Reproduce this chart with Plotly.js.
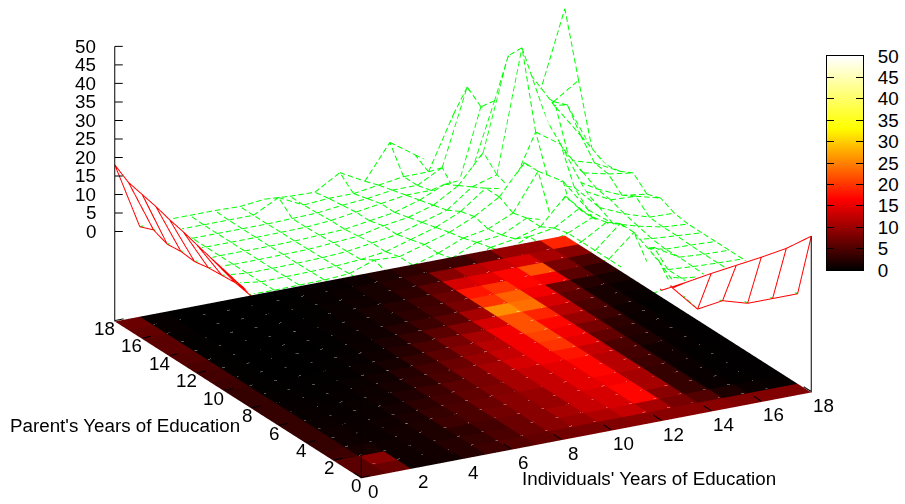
<!DOCTYPE html>
<html><head><meta charset="utf-8"><script src="https://cdn.plot.ly/plotly-3.0.1.min.js"></script>
<style>html,body{margin:0;padding:0;background:#fff}#c{width:905px;height:504px}</style></head>
<body><div id="c"></div><script>
const gridTicks=[0,1,2,3,4,5,6,7,8,9,10,11,12,13,14,15,16,17,18];
const xTickVals=[0,2,4,6,8,10,12,14,16,18];
const yTickVals=[0,2,4,6,8,10,12,14,16,18];
const zTickVals=[0,5,10,15,20,25,30,35,40,45,50];
const xTitle="Individuals' Years of Education";
const yTitle="Parent's Years of Education";
const wireY0=[0,1,1.5,2,3,4,5,6,7,8,9,10,11,11.9,13,13.9,14.8,15.9,17.9];
const wireY1=[6,8,1,2,3,4,5,7,9,11,13,16,16,8,1,2,0,0,0];
const wireY2=[5,2,1.5,2,2.5,4,6,7,9,12,15,16,22,13,2,.5,.5,.2,0];
const wireY3=[4,1.5,1.5,1.8,2.2,3.5,5,7,9,11,15,16,22,14,3,1,1,.2,0];
const wireY4=[4,1.2,1.2,1.5,2,3,5,7,9,11,14,16,20,12,3,1,.3,.2,0];
const wireY5=[4,1,1,1.2,1.8,3,4.5,6,8,11,14,16,19,12,3,1,.5,.2,0];
const wireY6=[4.5,.8,.8,1,1.5,2.5,4,6,8,11,14,15,19,10.5,1.6,4.6,.7,.2,0];
const wireY7=[5,.7,.7,.9,1.2,2,3,5,7,10,11,13,20,13,5,2,.5,.3,0];
const wireY8=[5.8,.6,.6,.8,1,1.5,2.5,4,6,9,9.7,13,11,8,5,2,1,.5,0];
const wireY9=[7.3,.5,.5,.6,.8,1.2,2,3,5,7.8,9,12,22,18,9,4,2,.5,0];
const wireY10=[8.4,.5,.4,.5,.6,1,3.4,3,5,7,10,14,22,15,12.7,6,3,.8,.6];
const wireY11=[9.4,1.3,.3,.4,.5,.7,1.2,2,4,6,9,14,12.5,26.6,22,8,4.4,4.1,2.3];
const wireY12=[10.5,1,.3,.3,.4,.6,1,2,3,5,7,12,14,47,26,9,5,2,1];
const wireY13=[11.7,.7,.3,.3,.4,.5,1,1.5,3,4,6,10,17.7,42.5,20.6,16.4,7,5.4,4.4];
const wireY14=[12.6,0,.3,.3,.3,.4,.7,1,2,3,5,8,8.4,28,20,15,8,6,2.5];
const wireY15=[13.8,.4,.3,.3,.3,.4,.5,1,2,3,4,4,2,24,18,30,20,11,1.9];
const wireY16=[14.7,0,.3,.3,.3,.3,.5,.7,1.5,2,3,3,6.5,27,10,20,18,17,3.5];
const wireY17=[15.6,1.5,.3,.3,.3,.3,3.8,.5,1,1,2,3,3,17.3,5,6,6,15.5,20];
const wireY18=[18,0,.5,.5,.5,.3,1,.5,.3,4.3,.7,9.9,5.3,.5,4,4,5,15.6,37];
const wire=[wireY0,wireY1,wireY2,wireY3,wireY4,wireY5,wireY6,wireY7,wireY8,wireY9,wireY10,wireY11,wireY12,wireY13,wireY14,wireY15,wireY16,wireY17,wireY18];
const cellY0=[6,7,1,1.3,2.5,4,5.5,6.5,7.5,8,8.5,9,9,9,9,8.5,8.5,8.5];
const cellY1=[6,9,1,1.3,2.5,3.5,5,7,9,10,11.5,13,11,8,5.5,2,.8,.5];
const cellY2=[4,1.5,1,1.3,2,3,4.5,7,9,11,13,14,17,9,3.5,.6,.3,.2];
const cellY3=[3.5,1,.8,1.3,2,4,5,7.5,9,10,13,14,17,11,3.5,.6,.2,.2];
const cellY4=[3.5,1,.8,1,1.8,3.5,5,7,9,10,13,15,16,11,3.5,.8,.3,.2];
const cellY5=[3.5,.8,.6,.8,1.4,3,4.5,6.5,8.5,11,13,15,17,12,4,1,.3,.2];
const cellY6=[3.5,.6,.5,.7,1.1,2.2,4,6,8,11,13,15,17,12,4.5,1.2,.4,.2];
const cellY7=[3.5,.5,.4,.5,.9,1.6,3,5,8,11,14,16,18,13,5,2,.5,.2];
const cellY8=[3.5,.4,.3,.4,.7,1.2,2.5,4.5,7,10,13,16,20,15,6.5,2.5,.6,.2];
const cellY9=[3.5,.3,.2,.3,.4,.8,1.6,3.5,6,9,12,16,21,16,8,3,.8,.3];
const cellY10=[4,.3,.1,.1,.3,.5,1,2.5,5,8,11,16,22,17,10,4,1,.3];
const cellY11=[4.5,.3,.1,.1,.2,.4,.8,1.8,3.5,6,8.5,14,22,19,12,5,1.5,.5];
const cellY12=[5,.3,0,0,.1,.3,.6,1.2,2.5,4,6,11,26,24,14,6,1.5,.8];
const cellY13=[5.5,.3,0,0,0,.2,.5,1,1.5,3,4.5,8,20,23,16,7,2.5,1.5];
const cellY14=[6,.3,0,0,0,.2,.4,.8,1.5,2.5,4,7,18,20,17,16,6,3];
const cellY15=[6,.4,0,0,0,.1,.3,.7,1,1.5,3,6,14,15,17,22,8,5];
const cellY16=[6.5,.5,0,0,0,.1,.3,.5,.8,1.5,2.5,4,9,12,13,14,11,9];
const cellY17=[7,.5,0,0,0,0,0,.5,.5,1,2,3,4,4,6,10,10,19];
const cells=[cellY0,cellY1,cellY2,cellY3,cellY4,cellY5,cellY6,cellY7,cellY8,cellY9,cellY10,cellY11,cellY12,cellY13,cellY14,cellY15,cellY16,cellY17];
const barY=[0,50], barX=[0,1], barZ=[[0,0],[50,50]];

const FLOOR=-24.3, TOP=50, ZLO=-26, ZHI=52;
const hot=[[0,'#000000'],[1/3,'#ff0000'],[2/3,'#ffff00'],[1,'#ffffff']];
const phi=28.7*Math.PI/180, elev=20.4*Math.PI/180, D=3, ZOOM=2.036;
const PXX=[25,-4.78], PXY=[-13.67,-8.67], PXZ=3.7, PXUNIT=251;
const dir={x:-Math.sin(phi)*Math.cos(elev),y:-Math.cos(phi)*Math.cos(elev),z:Math.sin(elev)};
const right={x:Math.cos(phi),y:-Math.sin(phi),z:0};
const upv={x:Math.sin(phi)*Math.sin(elev),y:Math.cos(phi)*Math.sin(elev),z:Math.cos(elev)};
const SHIFTR=10.5/PXUNIT, SHIFTU=33/PXUNIT;
const cen={x:-SHIFTR*right.x-SHIFTU*upv.x,y:-SHIFTR*right.y-SHIFTU*upv.y,z:-SHIFTR*right.z-SHIFTU*upv.z};
const camera={projection:{type:'orthographic'},up:{x:0,y:0,z:1},
  eye:{x:cen.x+D*dir.x,y:cen.y+D*dir.y,z:cen.z+D*dir.z},center:cen};
const hidden={visible:false,showgrid:false,zeroline:false,showticklabels:false,showspikes:false};
function sceneCfg(ann){return {domain:{x:[0,1],y:[0,1]},camera,aspectmode:'manual',aspectratio:{x:ZOOM*19/18,y:ZOOM*19/18,z:ZOOM*(ZHI-ZLO)*0.572/74.3},
  xaxis:{...hidden,range:[-.5,18.5]},yaxis:{...hidden,range:[-.5,18.5]},zaxis:{...hidden,range:[ZLO,ZHI]},bgcolor:'rgba(0,0,0,0)',annotations:ann||[]};}

const g={x:[],y:[],z:[]}, r={x:[],y:[],z:[]};
const DASH=5.5, GAP=3;
function dashed(t,p,q,on,off){
  const dx=q[0]-p[0],dy=q[1]-p[1],dz=q[2]-p[2];
  const len=Math.hypot(PXX[0]*dx+PXY[0]*dy,PXX[1]*dx+PXY[1]*dy-PXZ*dz);
  for(let s=0;s<len;s+=on+off){
    const u=s/len,v=Math.min(1,(s+on)/len);
    t.x.push(p[0]+dx*u,p[0]+dx*v,null);t.y.push(p[1]+dy*u,p[1]+dy*v,null);t.z.push(p[2]+dz*u,p[2]+dz*v,null);
  }
}
function seg(t,a,b,c,d,isDashed){
  const p=[gridTicks[b],gridTicks[a],wire[a][b]],q=[gridTicks[d],gridTicks[c],wire[c][d]];
  if(isDashed){dashed(t,p,q,DASH,GAP);return;}
  t.x.push(p[0],q[0],null);t.y.push(p[1],q[1],null);t.z.push(p[2],q[2],null);
}
const n=gridTicks.length;
for(let a=0;a<n;a++)for(let b=0;b<n;b++){
  if(b<n-1){const red=(a<=1&&b>=12)||b===0;seg(red?r:g,a,b,a,b+1,!red);}
  if(a<n-1){const red=(b<=1&&a>=1)||(a===0&&b>=12);seg(red?r:g,a,b,a+1,b,!red);}
}
const mx=[],my=[],mz=[],mi=[],mj=[],mk=[],mv=[];
gridTicks.forEach(y=>gridTicks.forEach(x=>{mx.push(x);my.push(y);mz.push(FLOOR);}));
cells.forEach((row,a)=>row.forEach((v,b)=>{
  const s=a*n+b;
  mi.push(s,s);mj.push(s+1,s+1+n);mk.push(s+1+n,s+n);mv.push(v,v);
}));
const ax={x:[],y:[],z:[]};
function line(p,q){ax.x.push(p[0],q[0],null);ax.y.push(p[1],q[1],null);ax.z.push(p[2],q[2],null);}
line([0,18,FLOOR],[0,18,TOP]);
line([18,0,FLOOR],[18,0,wire[0][18]]);
line([0,0,FLOOR],[0,0,0]);
const tk=0.28, LIFT=0.25;
zTickVals.forEach(z=>line([0,18,z],[tk*Math.cos(phi),18-tk*Math.sin(phi),z]));
xTickVals.forEach(x=>line([x,0,FLOOR+LIFT],[x,0.55,FLOOR+LIFT]));
yTickVals.forEach(y=>line([0,y,FLOOR+LIFT],[0.35,y,FLOOR+LIFT]));
const seams={x:[],y:[],z:[]};
gridTicks.slice(1,-1).forEach(y=>dashed(seams,[1,y,FLOOR+LIFT],[17,y,FLOOR+LIFT],3,22));

const font={family:'Liberation Sans, Arial, sans-serif',size:18.8,color:'#000'};
const ann=[];
xTickVals.forEach(x=>ann.push({x,y:0,z:FLOOR,text:String(x),showarrow:false,font,xshift:12,yshift:-13}));
yTickVals.forEach(y=>ann.push({x:0,y,z:FLOOR,text:String(y),showarrow:false,font,xanchor:'right',xshift:2,yshift:-7}));
zTickVals.forEach(z=>ann.push({x:0,y:18,z,text:String(z),showarrow:false,font,xanchor:'right',xshift:-17}));

const occluder=wire.map((row,a)=>row.map((v,b)=>(a===0||b===0)?null:v-0.4));
const plain={showscale:false,colorscale:[[0,'#fff'],[1,'#fff']],lighting:{ambient:1,diffuse:0,specular:0,roughness:1,fresnel:0},hoverinfo:'skip'};
const line3={mode:'lines',hoverinfo:'skip',showlegend:false};
const traces=[
 {type:'surface',scene:'scene',x:gridTicks,y:gridTicks,z:occluder,...plain},
 {type:'surface',scene:'scene',x:gridTicks,y:gridTicks.slice(0,2),z:wire.slice(0,2).map(a=>a.map(v=>v+0.5)),...plain},
 {type:'surface',scene:'scene',x:gridTicks.slice(0,2),y:gridTicks,z:wire.map(a=>a.slice(0,2).map(v=>v+0.5)),...plain},
 {type:'scatter3d',scene:'scene',...line3,...g,line:{color:'#00ff00',width:2}},
 {type:'scatter3d',scene:'scene',...line3,...r,line:{color:'#ff0000',width:2}},
 {type:'mesh3d',scene:'scene2',x:mx,y:my,z:mz,i:mi,j:mj,k:mk,intensity:mv,intensitymode:'cell',colorscale:hot,cmin:0,cmax:50,showscale:false,flatshading:true,
  lighting:{ambient:1,diffuse:0,specular:0,roughness:1,fresnel:0},hoverinfo:'skip'},
 {type:'scatter3d',scene:'scene2',...line3,...seams,line:{color:'rgba(170,170,170,0.5)',width:1}},
 {type:'scatter3d',scene:'scene2',...line3,...ax,line:{color:'#000',width:2}},
 {type:'heatmap',x:barX,y:barY,z:barZ,zsmooth:'best',colorscale:hot,zmin:0,zmax:50,showscale:false,hoverinfo:'skip',xaxis:'x',yaxis:'y'}
];
const W=905,H=504;
const layout={width:W,height:H,margin:{l:0,r:0,t:0,b:0},paper_bgcolor:'#fff',plot_bgcolor:'#fff',showlegend:false,
 scene:sceneCfg([]),scene2:sceneCfg(ann),
 xaxis:{domain:[827/W,863/W],range:[0,1],showticklabels:false,ticks:'',showgrid:false,zeroline:false,showline:true,mirror:true,linecolor:'#000',linewidth:1,fixedrange:true},
 yaxis:{domain:[1-270/H,1-56/H],range:[0,50],tickvals:zTickVals,side:'right',anchor:'x',ticks:'inside',ticklen:7,tickcolor:'#000',tickwidth:1,ticklabelstandoff:10,showgrid:false,zeroline:false,showline:true,mirror:'ticks',linecolor:'#000',linewidth:1,tickfont:font,fixedrange:true},
 annotations:[
  {xref:'paper',yref:'paper',x:520/W,y:1-478/H,xanchor:'left',yanchor:'middle',text:xTitle,showarrow:false,font},
  {xref:'paper',yref:'paper',x:8/W,y:1-425/H,xanchor:'left',yanchor:'middle',text:yTitle,showarrow:false,font}
 ]};
Plotly.newPlot('c',traces,layout,{displayModeBar:false,responsive:false});
</script></body></html>
